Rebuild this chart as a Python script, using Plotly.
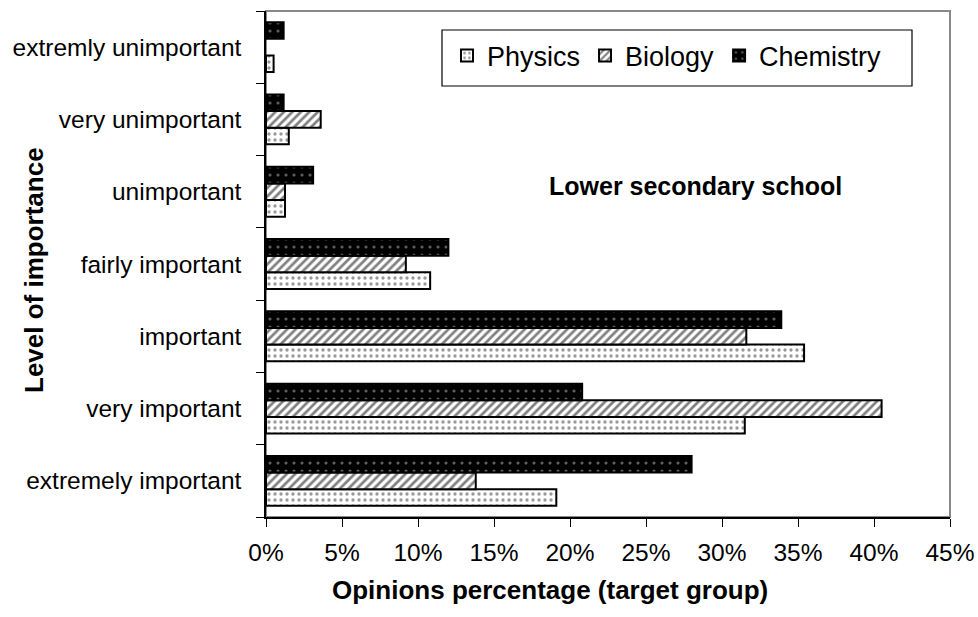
import plotly.graph_objects as go

categories = ["extremely important", "very important", "important", "fairly important",
              "unimportant", "very unimportant", "extremly unimportant"]
physics = [0.191, 0.315, 0.354, 0.108, 0.0125, 0.015, 0.005]
biology = [0.138, 0.405, 0.316, 0.092, 0.0125, 0.036, None]
chemistry = [0.280, 0.208, 0.339, 0.120, 0.031, 0.0116, 0.0116]
x_ticks = [0, 0.05, 0.10, 0.15, 0.20, 0.25, 0.30, 0.35, 0.40, 0.45]

FONT = "Liberation Sans, Arial, sans-serif"

# plot area in pixels: x 266..950, y 11..517
L, R, T, B = 266, 950, 11, 517
W, H = 978, 617
PW, PH = R - L, B - T


def px(x):
    return (x - L) / PW


def py(y):
    return (B - y) / PH


fig = go.Figure()
fig.add_trace(go.Bar(
    name="Physics", y=categories, x=physics, orientation="h",
    marker=dict(color="white", line=dict(color="black", width=2),
                pattern=dict(shape=".", fgcolor="#333333", bgcolor="white", size=6, solidity=0.25)),
))
fig.add_trace(go.Bar(
    name="Biology", y=categories, x=biology, orientation="h",
    marker=dict(color="white", line=dict(color="black", width=2),
                pattern=dict(shape="/", fgcolor="black", bgcolor="white", size=6, solidity=0.45)),
))
fig.add_trace(go.Bar(
    name="Chemistry", y=categories, x=chemistry, orientation="h",
    marker=dict(color="black", line=dict(color="black", width=2),
                pattern=dict(shape=".", fgcolor="#bbbbbb", bgcolor="black", size=8, solidity=0.12)),
))

fig.update_layout(
    width=W, height=H,
    margin=dict(l=L, r=W - R, t=T, b=H - B),
    paper_bgcolor="white", plot_bgcolor="white",
    barmode="group", bargap=0.31, bargroupgap=0,
    font=dict(family=FONT, size=24.5, color="black"),
    showlegend=True,
    legend=dict(orientation="h", x=px(447), y=py(56), xanchor="left", yanchor="middle",
                borderwidth=0, bgcolor="rgba(0,0,0,0)",
                font=dict(size=27), itemwidth=30, tracegroupgap=0),
    xaxis=dict(range=[0, 0.45], tickvals=x_ticks, tickformat=".0%", automargin=False,
               showgrid=False, zeroline=False, showline=True, linecolor="black", linewidth=1.5,
               ticks="outside", ticklen=8, tickcolor="black", tickfont=dict(size=24.5),
               ticklabelstandoff=5),
    yaxis=dict(categoryorder="array", categoryarray=categories, type="category", automargin=False,
               showgrid=False, zeroline=False, showline=True, linecolor="black", linewidth=1.5,
               ticks="outside", tickson="boundaries", ticklen=8, tickcolor="black",
               tickfont=dict(size=24.5), ticklabelstandoff=18),
    shapes=[dict(type="rect", xref="paper", yref="paper", x0=0, x1=1, y0=0, y1=1,
                 line=dict(color="#888888", width=2), layer="below"),
            dict(type="rect", xref="paper", yref="paper", x0=px(442), x1=px(912),
                 y0=py(86), y1=py(30),
                 line=dict(color="black", width=1.2), fillcolor="white", layer="below")],
    annotations=[
        dict(text="<b>Lower secondary school</b>", xref="paper", yref="paper",
             x=px(547), y=py(186), xanchor="left", yanchor="middle", showarrow=False,
             font=dict(size=25)),
        dict(text="<b>Level of importance</b>", xref="paper", yref="paper",
             x=px(34), y=py(270), xanchor="center", yanchor="middle", showarrow=False,
             textangle=-90, font=dict(size=26)),
        dict(text="<b>Opinions percentage (target group)</b>", xref="paper", yref="paper",
             x=px(550), y=py(590), xanchor="center", yanchor="middle",
             showarrow=False, font=dict(size=26)),
    ],
)

fig.write_html("out.html", post_script="document.body.style.margin='0';",
               config={"displayModeBar": False})
